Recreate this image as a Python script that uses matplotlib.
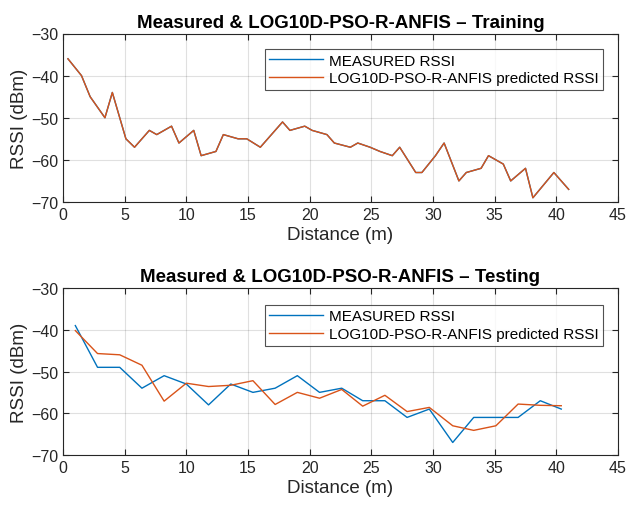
import matplotlib
matplotlib.use("Agg")
import matplotlib.pyplot as plt

plt.rcParams['font.family'] = ['Liberation Sans', 'DejaVu Sans']

# Training data
train_dist = [0.4, 1.5, 2.2, 3.4, 4.0, 5.1, 5.8, 7.0, 7.6, 8.8, 9.4, 10.6, 11.2, 12.4,
              13.0, 14.2, 14.9, 16.0, 17.8, 18.4, 19.6, 20.2, 21.4, 22.0, 23.3, 23.9,
              24.9, 25.7, 26.7, 27.3, 28.6, 29.1, 30.2, 30.9, 32.1, 32.7, 33.9, 34.5,
              35.7, 36.3, 37.5, 38.1, 39.8, 41.0]
train_measured = [-36, -40, -45, -50, -44, -55, -57, -53, -54, -52, -56, -53, -59, -58,
                  -54, -55, -55, -57, -51, -53, -52, -53, -54, -56, -57, -56,
                  -57, -58, -59, -57, -63, -63, -59, -56, -65, -63, -62, -59,
                  -61, -65, -62, -69, -63, -67]
train_predicted = list(train_measured)

# Testing data
test_dist = [1.0, 2.8, 4.6, 6.4, 8.2, 10.0, 11.8, 13.6, 15.4, 17.2, 19.0, 20.8, 22.6,
             24.3, 26.1, 27.9, 29.7, 31.6, 33.3, 35.1, 36.9, 38.7, 40.4]
test_measured = [-39, -49, -49, -54, -51, -53, -58, -53, -55, -54, -51, -55, -54,
                 -57, -57, -61, -59, -67, -61, -61, -61, -57, -59]
test_predicted = [-40.2, -45.7, -46, -48.5, -57.1, -52.8, -53.6, -53.3, -52.2, -57.9,
                  -55, -56.4, -54.3, -58.3, -55.7, -59.6, -58.6, -63, -64.1, -63,
                  -57.8, -58.1, -58.2]

titles = ["Measured & LOG10D-PSO-R-ANFIS \u2013 Training",
          "Measured & LOG10D-PSO-R-ANFIS \u2013 Testing"]
legend_labels = ["MEASURED RSSI", "LOG10D-PSO-R-ANFIS predicted RSSI"]
xticks = [0, 5, 10, 15, 20, 25, 30, 35, 40, 45]
yticks = [-70, -60, -50, -40, -30]

BLUE = "#0072BD"
ORANGE = "#D95319"
W, H = 628, 510
fig = plt.figure(figsize=(W / 100, H / 100), dpi=100)

axes_px = [(63, 34.5, 618, 203), (63, 289, 618, 456)]
datasets = [(train_dist, train_measured, train_predicted, 0.908),
            (test_dist, test_measured, test_predicted, 0.9)]

for (l, t, r, b), (xd, m, p, legtop), title in zip(axes_px, datasets, titles):
    ax = fig.add_axes([l / W, 1 - b / H, (r - l) / W, (b - t) / H])
    ax.plot(xd, m, color=BLUE, lw=1.0, label=legend_labels[0])
    ax.plot(xd, p, color=ORANGE, lw=1.0, label=legend_labels[1])
    ax.set_xlim(0, 45)
    ax.set_ylim(-70, -30)
    ax.set_xticks(xticks)
    ax.set_yticks(yticks)
    ax.grid(True, color="#000000", alpha=0.12, lw=0.8)
    ax.tick_params(direction="in", top=True, right=True, labelsize=11.5,
                   colors="#262626", length=4, width=0.8)
    for s in ax.spines.values():
        s.set_color("#262626")
        s.set_linewidth(0.8)
    ax.set_xlabel("Distance (m)", fontsize=13.5, color="#262626", labelpad=3)
    ax.set_ylabel("RSSI (dBm)", fontsize=13.5, color="#262626", labelpad=2)
    ax.set_title(title, fontsize=13.5, fontweight="bold", color="#000000", pad=5)
    leg = ax.legend(loc="upper right", bbox_to_anchor=(0.973, legtop), fontsize=11,
                    frameon=True, fancybox=False, edgecolor="#262626",
                    handlelength=3.5, borderpad=0.3, labelspacing=0.25,
                    handletextpad=0.4, borderaxespad=0)
    leg.get_frame().set_linewidth(0.8)
    for txt in leg.get_texts():
        txt.set_color("#000000")

fig.savefig("out.png", dpi=100)
